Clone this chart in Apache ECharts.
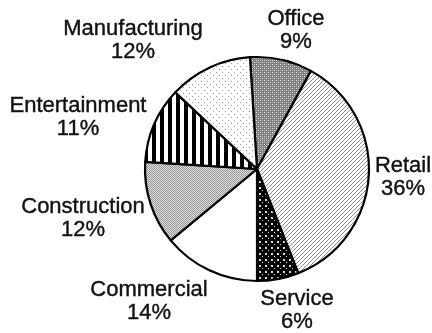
<!DOCTYPE html>
<html>
<head>
<meta charset="utf-8">
<script src="https://cdn.jsdelivr.net/npm/echarts@6/dist/echarts.min.js"></script>
<style>
html,body{margin:0;padding:0;background:#fff;}
#chart{width:432px;height:333px;}
</style>
</head>
<body>
<div id="chart"></div>
<script>
// Data (clockwise from top)
const categories = ['Office', 'Retail', 'Service', 'Commercial', 'Construction', 'Entertainment', 'Manufacturing'];
const values = [9, 36, 6, 14, 12, 11, 12];

// Layout constants
const CENTER = [257, 169];
const RADIUS = 112;
// label centre offsets relative to pie centre (px)
const labelOffsets = [
  [39, -139], [146, 8], [40, 141], [-108, 132], [-174, 49], [-179, -52], [-124, -129]
];

function makeTile(w, h, draw) {
  const c = document.createElement('canvas');
  c.width = w; c.height = h;
  const ctx = c.getContext('2d');
  draw(ctx, w, h);
  return { image: c, repeat: 'repeat' };
}
const patterns = [
  // Office: medium gray crosshatch
  makeTile(4, 4, (ctx) => {
    ctx.fillStyle = '#7f7f7f'; ctx.fillRect(0, 0, 4, 4);
    ctx.fillStyle = '#e6e6e6'; ctx.fillRect(0, 0, 1, 1); ctx.fillRect(2, 2, 1, 1);
    ctx.fillStyle = '#b5b5b5'; ctx.fillRect(2, 0, 1, 1); ctx.fillRect(0, 2, 1, 1);
  }),
  // Retail: diagonal lines "/"
  makeTile(4, 4, (ctx) => {
    ctx.fillStyle = '#ffffff'; ctx.fillRect(0, 0, 4, 4);
    ctx.fillStyle = '#8f8f8f';
    for (let i = 0; i < 4; i++) ctx.fillRect(i, 3 - i, 1, 1);
  }),
  // Service: black with white dots
  makeTile(6, 6, (ctx) => {
    ctx.fillStyle = '#000'; ctx.fillRect(0, 0, 6, 6);
    ctx.fillStyle = '#d8d8d8'; ctx.fillRect(1, 1, 2, 2); ctx.fillRect(4, 4, 1, 1);
  }),
  // Commercial: white
  '#ffffff',
  // Construction: fine gray stipple
  makeTile(2, 2, (ctx) => {
    ctx.fillStyle = '#e0e0e0'; ctx.fillRect(0, 0, 2, 2);
    ctx.fillStyle = '#969696'; ctx.fillRect(0, 0, 1, 1); ctx.fillRect(1, 1, 1, 1);
  }),
  // Entertainment: vertical black stripes
  makeTile(8, 2, (ctx) => {
    ctx.fillStyle = '#fff'; ctx.fillRect(0, 0, 8, 2);
    ctx.fillStyle = '#000'; ctx.fillRect(0, 0, 4, 2);
  }),
  // Manufacturing: sparse dots
  makeTile(6, 6, (ctx) => {
    ctx.fillStyle = '#fff'; ctx.fillRect(0, 0, 6, 6);
    ctx.fillStyle = '#9a9a9a'; ctx.fillRect(0, 0, 1, 1); ctx.fillRect(3, 3, 1, 1);
  })
];

const chart = echarts.init(document.getElementById('chart'), null, { renderer: 'canvas' });
chart.setOption({
  animation: false,
  backgroundColor: '#fff',
  series: [{
    type: 'pie',
    center: CENTER,
    radius: RADIUS,
    startAngle: 93.6,
    clockwise: true,
    avoidLabelOverlap: false,
    data: categories.map((name, i) => ({
      name, value: values[i],
      itemStyle: { color: patterns[i] }
    })),
    itemStyle: { borderColor: '#000', borderWidth: 2.2 },
    label: {
      show: true,
      position: 'outside',
      formatter: '{b}\n{c}%',
      fontFamily: 'Liberation Sans, Arial, sans-serif',
      fontSize: 22,
      lineHeight: 23,
      color: '#111',
      textBorderColor: '#111',
      textBorderWidth: 0.4,
      align: 'center'
    },
    labelLine: { show: false },
    labelLayout: function (p) {
      const off = labelOffsets[p.dataIndex];
      return { x: CENTER[0] + off[0], y: CENTER[1] + off[1], align: 'center', verticalAlign: 'middle', hideOverlap: false };
    },
    emphasis: { disabled: true }
  }]
});
</script>
</body>
</html>
